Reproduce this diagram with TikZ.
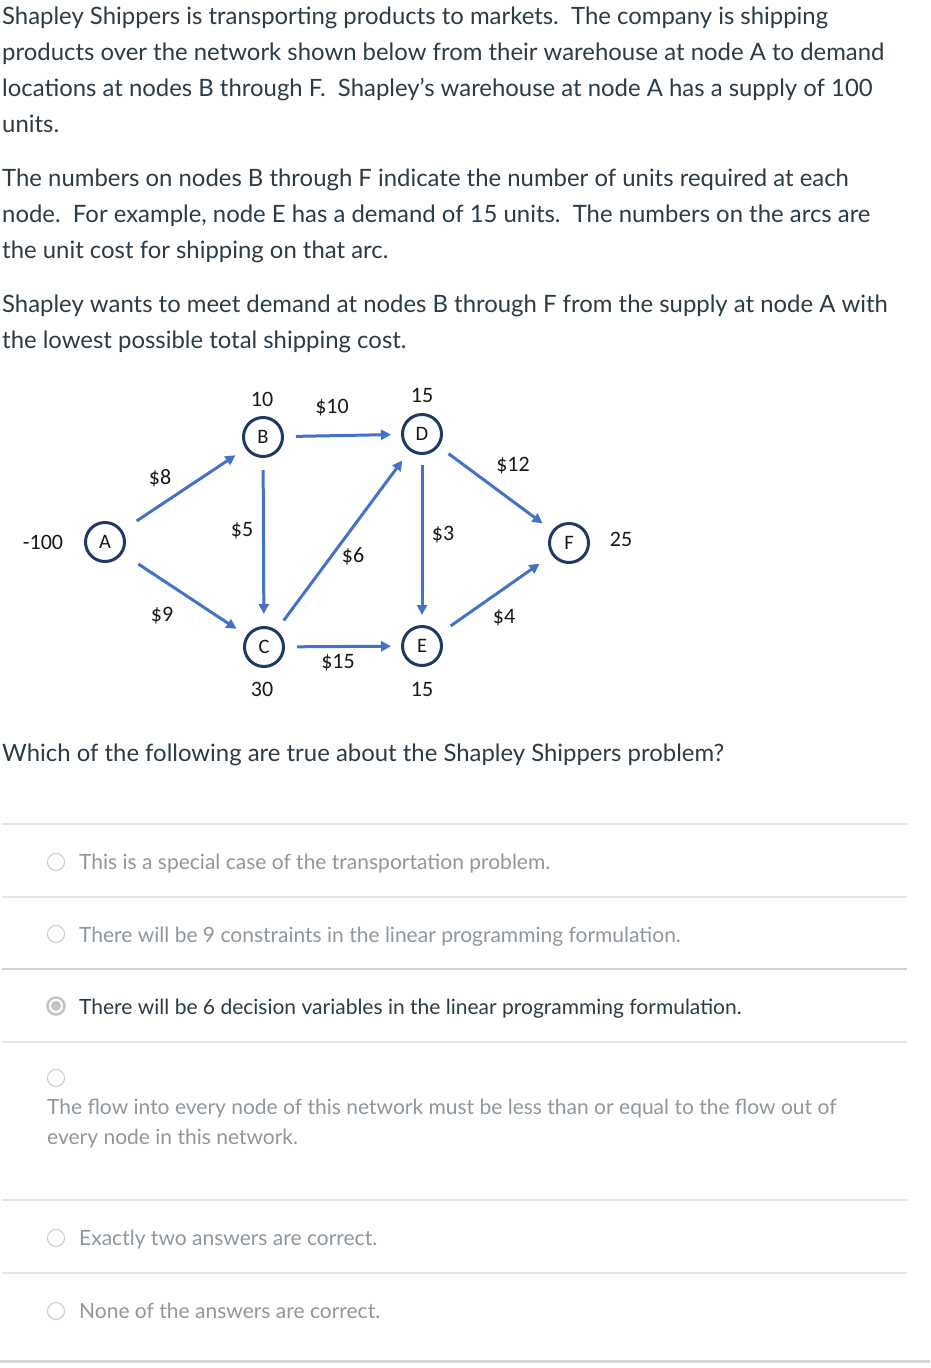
\documentclass[tikz,border=0pt]{standalone}
\usepackage{fontspec}
\setmainfont{Lato}
\newfontfamily\diagfont{Carlito}
\usetikzlibrary{arrows.meta}
\definecolor{maintxt}{HTML}{2D3B45}
\definecolor{greytxt}{HTML}{8F979D}
\definecolor{navy}{HTML}{203864}
\definecolor{arrblue}{HTML}{4472C4}
\definecolor{sepline}{HTML}{E6E6E6}
\definecolor{radiogrey}{HTML}{D2D2D2}
\definecolor{selgrey}{HTML}{C4C4C4}
\tikzset{
  bodytxt/.style={anchor=base west, inner sep=0pt, text=maintxt, font=\fontsize{23.9}{36}\selectfont},
  opttxt/.style={anchor=base west, inner sep=0pt, text=greytxt, font=\fontsize{21}{30}\selectfont},
  seltxt/.style={opttxt, text=maintxt},
  netnode/.style={circle, draw=navy, line width=3pt, minimum size=39pt, inner sep=0pt, fill=white, font=\diagfont\fontsize{20.5}{20.5}\selectfont, text=black!90},
  lbl/.style={inner sep=0pt, font=\diagfont\fontsize{22}{22}\selectfont, text=black!90},
  arr/.style={draw=arrblue, line width=3pt, -{Triangle[length=10pt,width=10pt]}, shorten <=12pt, shorten >=12pt},
  sep/.style={draw=sepline, line width=1.5pt},
  radio/.style={circle, draw=radiogrey, line width=1.2pt, fill=white, minimum size=17pt, inner sep=0pt},
}
\begin{document}
\begin{tikzpicture}[x=1pt, y=-1pt]
\useasboundingbox (0,0) rectangle (930,1368);
\fill[white] (0,0) rectangle (930,1368);

% paragraph text
\node[bodytxt] (t1) at (2,24) {Shapley Shippers is transporting products to markets.\ \ The company is shipping};
\node[bodytxt] (t2) at (2,60) {products over the network shown below from their warehouse at node A to demand};
\node[bodytxt] (t3) at (2,96) {locations at nodes B through F.\ \ Shapley’s warehouse at node A has a supply of 100};
\node[bodytxt] (t4) at (2,132) {units.};
\node[bodytxt] (t5) at (2,186) {The numbers on nodes B through F indicate the number of units required at each};
\node[bodytxt] (t6) at (2,222) {node.\ \ For example, node E has a demand of 15 units.\ \ The numbers on the arcs are};
\node[bodytxt] (t7) at (2,258) {the unit cost for shipping on that arc.};
\node[bodytxt] (t8) at (2,312) {Shapley wants to meet demand at nodes B through F from the supply at node A with};
\node[bodytxt] (t9) at (2,348) {the lowest possible total shipping cost.};

% network
\node[netnode] (A) at (105,542) {A};
\node[netnode] (B) at (263,437) {B};
\node[netnode] (C) at (264,647) {C};
\node[netnode] (D) at (422,434) {D};
\node[netnode] (E) at (422,646) {E};
\node[netnode] (F) at (569,543) {F};

\draw[arr, shorten <=17pt] (A) -- (B);
\draw[arr, shorten <=19pt] (A) -- (C);
\draw[arr] (B) -- (C);
\draw[arr, shorten >=10pt] (B) -- (D);
\draw[arr] (C) -- (D);
\draw[arr, shorten >=10pt] (C) -- (E);
\draw[arr, shorten <=10pt, shorten >=10pt] (D) -- (E);
\draw[arr] (D) -- (F);
\draw[arr, shorten <=14pt, shorten >=15pt] (E) -- (F);

\node[lbl] (nA) at (43,542) {-100};
\node[lbl] (nB) at (262,399) {10};
\node[lbl] (nC) at (262,689) {30};
\node[lbl] (nD) at (422,395) {15};
\node[lbl] (nE) at (422,689) {15};
\node[lbl] (nF) at (621,539) {25};
\node[lbl] (cAB) at (160,478) {\$8};
\node[lbl] (cAC) at (162,616) {\$9};
\node[lbl] (cBC) at (242,531) {\$5};
\node[lbl] (cBD) at (332,408) {\$10};
\node[lbl] (cCD) at (353,556) {\$6};
\node[lbl] (cCE) at (338,663) {\$15};
\node[lbl] (cDE) at (443,535) {\$3};
\node[lbl] (cDF) at (513,466) {\$12};
\node[lbl] (cEF) at (504,618) {\$4};

% question
\node[bodytxt] (q) at (2,761) {Which of the following are true about the Shapley Shippers problem?};

% separators
\draw[sep] (2,824) -- (907,824);
\draw[sep] (2,897) -- (907,897);
\draw[sep, draw=black!18] (2,969) -- (907,969);
\draw[sep] (2,1042) -- (907,1042);
\draw[sep] (2,1200) -- (907,1200);
\draw[sep] (2,1273) -- (907,1273);
\draw[draw=black!16, line width=3pt] (0,1361) -- (930,1361);

% options
\node[radio] (r1) at (56,862) {};
\node[opttxt] (o1) at (79,869.5) {This is a special case of the transportation problem.};
\node[radio] (r2) at (56,934) {};
\node[opttxt] (o2) at (79,942.5) {There will be 9 constraints in the linear programming formulation.};
\node[circle, draw=selgrey, line width=2.5pt, fill=white, minimum size=17pt, inner sep=0pt] (r3) at (56,1006) {};
\fill[selgrey] (r3.center) circle (5pt);
\node[seltxt] (o3) at (79,1014.5) {There will be 6 decision variables in the linear programming formulation.};
\node[radio] (r4) at (56,1078) {};
\node[opttxt] (o4a) at (47,1114.5) {The flow into every node of this network must be less than or equal to the flow out of};
\node[opttxt] (o4b) at (47,1144.5) {every node in this network.};
\node[radio] (r5) at (56,1238) {};
\node[opttxt] (o5) at (79,1245.5) {Exactly two answers are correct.};
\node[radio] (r6) at (56,1311) {};
\node[opttxt] (o6) at (79,1318.5) {None of the answers are correct.};
\end{tikzpicture}
\end{document}
